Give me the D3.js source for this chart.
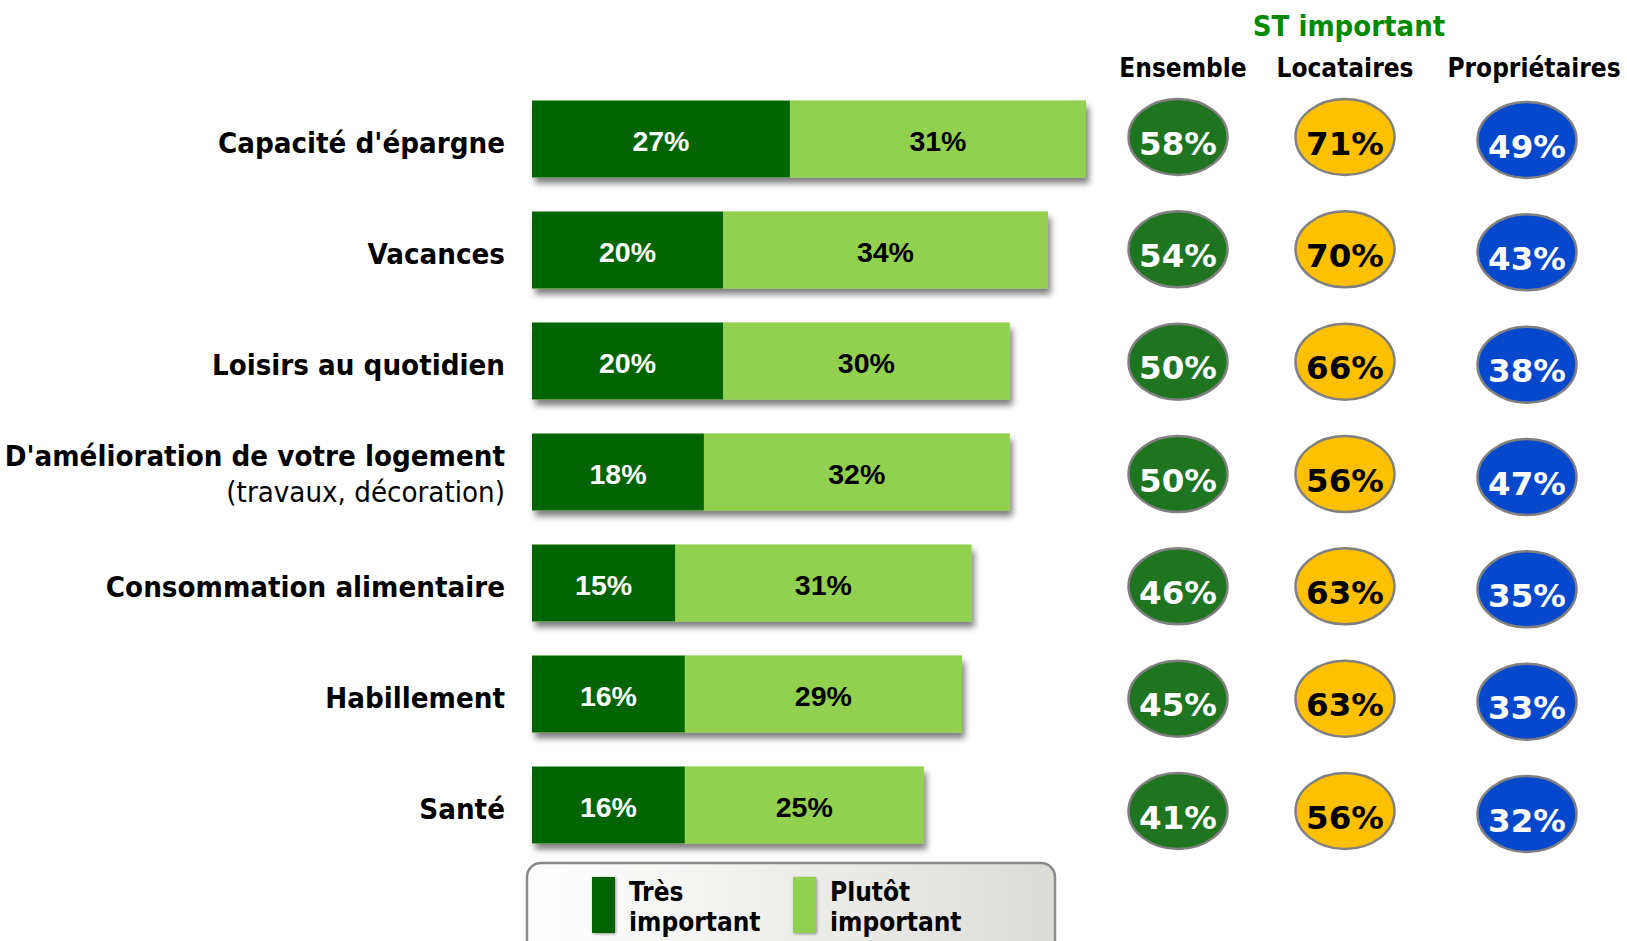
<!DOCTYPE html>
<html>
<head>
<meta charset="utf-8">
<script src="https://cdn.jsdelivr.net/npm/d3@7"></script>
<style>
  html, body { margin: 0; padding: 0; background: #ffffff; }
  svg { display: block; }
  .cond { font-family: 'DejaVu Sans Condensed', 'DejaVu Sans', sans-serif; font-stretch: condensed; }
</style>
</head>
<body>
<svg id="chart" width="1627" height="941"></svg>
<script>
// ---- data ----
const categories = ["Capacité d'épargne", "Vacances", "Loisirs au quotidien", "D'amélioration de votre logement", "Consommation alimentaire", "Habillement", "Santé"];
const subLabels = ["", "", "", "(travaux, décoration)", "", "", ""];
const tresImportant = [27, 20, 20, 18, 15, 16, 16];
const plutotImportant = [31, 34, 30, 32, 31, 29, 25];
const ensemble = [58, 54, 50, 50, 46, 45, 41];
const locataires = [71, 70, 66, 56, 63, 63, 56];
const proprietaires = [49, 43, 38, 47, 35, 33, 32];
const groupNames = ["Ensemble", "Locataires", "Propriétaires"];
const seriesNames = ["Très important", "Plutôt important"];
const headerTitle = "ST important";

// ---- layout ----
const svg = d3.select("#chart");
const defs = svg.append("defs");

const shadow = defs.append("filter").attr("id", "barShadow")
  .attr("x", "-5%").attr("y", "-20%").attr("width", "115%").attr("height", "160%");
shadow.append("feDropShadow").attr("dx", 3).attr("dy", 6).attr("stdDeviation", 3)
  .attr("flood-color", "#000").attr("flood-opacity", 0.5);

const swShadow = defs.append("filter").attr("id", "swShadow")
  .attr("x", "-50%").attr("y", "-20%").attr("width", "200%").attr("height", "140%");
swShadow.append("feDropShadow").attr("dx", 1).attr("dy", 1).attr("stdDeviation", 1.5)
  .attr("flood-color", "#000").attr("flood-opacity", 0.4);

const legGrad = defs.append("linearGradient").attr("id", "legGrad")
  .attr("x1", "0%").attr("x2", "100%").attr("y1", "0%").attr("y2", "0%");
legGrad.append("stop").attr("offset", "0%").attr("stop-color", "#ffffff");
legGrad.append("stop").attr("offset", "100%").attr("stop-color", "#dcdcd7");

const x = d3.scaleLinear().domain([0, 58]).range([532, 1086]);
const step = 111, pIn = (111 - 76.8) / 111;
const y = d3.scaleBand().domain(categories)
  .range([100.6, 100.6 + step * (categories.length - pIn)])
  .paddingInner(pIn).paddingOuter(0);
const yc = d => y(d) + y.bandwidth() / 2;

const seriesColors = d3.scaleOrdinal().domain(seriesNames).range(["#006400", "#92D050"]);
const seriesText = d3.scaleOrdinal().domain(seriesNames).range(["#ffffff", "#000000"]);

const rows = categories.map((c, i) => ({
  cat: c, sub: subLabels[i],
  segs: [
    { name: seriesNames[0], x0: 0, x1: tresImportant[i], v: tresImportant[i] },
    { name: seriesNames[1], x0: tresImportant[i], x1: tresImportant[i] + plutotImportant[i], v: plutotImportant[i] }
  ]
}));

// bars
const barG = svg.append("g");
const rowG = barG.selectAll("g.row").data(rows).join("g").attr("class", "row");
rowG.append("rect")
  .attr("x", x(0)).attr("y", d => y(d.cat))
  .attr("width", d => x(d.segs[1].x1) - x(0)).attr("height", y.bandwidth())
  .attr("fill", "#92D050").attr("filter", "url(#barShadow)");
rowG.selectAll("rect.seg").data(d => d.segs.map(s => ({ ...s, cat: d.cat }))).join("rect")
  .attr("class", "seg")
  .attr("x", s => x(s.x0)).attr("y", s => y(s.cat))
  .attr("width", s => x(s.x1) - x(s.x0)).attr("height", y.bandwidth())
  .attr("fill", s => seriesColors(s.name));
rowG.selectAll("text.val").data(d => d.segs.map(s => ({ ...s, cat: d.cat }))).join("text")
  .attr("class", "val")
  .attr("x", s => (x(s.x0) + x(s.x1)) / 2).attr("y", s => yc(s.cat) + 11.5)
  .attr("text-anchor", "middle")
  .attr("font-family", "'Liberation Sans', Arial, sans-serif").attr("font-weight", "bold")
  .attr("font-size", 28.5)
  .attr("fill", s => seriesText(s.name))
  .text(s => s.v + "%");

// category labels
const labG = svg.append("g").attr("class", "cond");
rows.forEach(r => {
  if (r.sub) {
    labG.append("text").attr("x", 505).attr("y", yc(r.cat) - 6)
      .attr("text-anchor", "end").attr("font-weight", "bold").attr("font-size", 29.2)
      .attr("fill", "#000").text(r.cat);
    labG.append("text").attr("x", 505).attr("y", yc(r.cat) + 30)
      .attr("text-anchor", "end").attr("font-weight", "normal").attr("font-size", 29.2)
      .attr("fill", "#000").text(r.sub);
  } else {
    labG.append("text").attr("x", 505).attr("y", yc(r.cat) + 14)
      .attr("text-anchor", "end").attr("font-weight", "bold").attr("font-size", 29.2)
      .attr("fill", "#000").text(r.cat);
  }
});

// ellipses
const gx = d3.scaleOrdinal().domain(groupNames).range([1178, 1345, 1527]);
const gDy = d3.scaleOrdinal().domain(groupNames).range([0, 0, 3]);
const gFill = d3.scaleOrdinal().domain(groupNames).range(["#1F741F", "#FFC000", "#0648CC"]);
const gText = d3.scaleOrdinal().domain(groupNames).range(["#ffffff", "#000000", "#ffffff"]);
const ey = d3.scalePoint().domain(categories).range([137, 811]);
const groupVals = [ensemble, locataires, proprietaires];

const ellG = svg.append("g");
groupNames.forEach((g, gi) => {
  const data = categories.map((c, i) => ({ cat: c, v: groupVals[gi][i] }));
  const eg = ellG.selectAll("g.e" + gi).data(data).join("g").attr("class", "e" + gi);
  eg.append("ellipse")
    .attr("cx", gx(g)).attr("cy", d => ey(d.cat) + gDy(g))
    .attr("rx", 49.5).attr("ry", 38)
    .attr("fill", gFill(g)).attr("stroke", "#808080").attr("stroke-width", 2.5);
  eg.append("text")
    .attr("x", gx(g)).attr("y", d => ey(d.cat) + gDy(g) + 17.5)
    .attr("text-anchor", "middle")
    .attr("font-family", "'DejaVu Sans', Verdana, sans-serif").attr("font-weight", "bold")
    .attr("font-size", 32.5).attr("fill", gText(g))
    .text(d => d.v + "%");
});

// headers
const hx = d3.scaleOrdinal().domain(groupNames).range([1183, 1345, 1534]);
const hG = svg.append("g").attr("class", "cond");
hG.append("text").attr("x", 1349).attr("y", 36).attr("text-anchor", "middle")
  .attr("font-weight", "bold").attr("font-size", 29).attr("fill", "#008A00").text(headerTitle);
hG.selectAll("text.h").data(groupNames).join("text").attr("class", "h")
  .attr("x", d => hx(d)).attr("y", 77).attr("text-anchor", "middle")
  .attr("font-weight", "bold").attr("font-size", 26).attr("fill", "#000").text(d => d);

// legend
const lg = svg.append("g").attr("class", "cond");
lg.append("rect").attr("x", 527).attr("y", 863).attr("width", 528).attr("height", 120)
  .attr("rx", 14).attr("fill", "url(#legGrad)").attr("stroke", "#8a8a8a").attr("stroke-width", 2.5);
const legX = d3.scaleOrdinal().domain(seriesNames).range([592, 793]);
const li = lg.selectAll("g.li").data(seriesNames).join("g").attr("class", "li");
li.append("rect").attr("x", d => legX(d)).attr("y", 877).attr("width", 23).attr("height", 56)
  .attr("fill", d => seriesColors(d)).attr("filter", "url(#swShadow)");
li.append("text").attr("x", d => legX(d) + 37).attr("y", 901)
  .attr("font-weight", "bold").attr("font-size", 26).attr("fill", "#000")
  .text(d => d.split(" ")[0]);
li.append("text").attr("x", d => legX(d) + 37).attr("y", 931)
  .attr("font-weight", "bold").attr("font-size", 26).attr("fill", "#000")
  .text(d => d.split(" ").slice(1).join(" "));
</script>
</body>
</html>
